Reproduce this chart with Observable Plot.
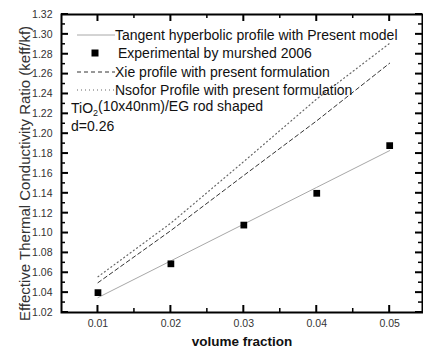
<!DOCTYPE html>
<html>
<head>
<meta charset="utf-8">
<script src="https://cdn.jsdelivr.net/npm/d3@7"></script>
<script src="https://cdn.jsdelivr.net/npm/@observablehq/plot@0.6"></script>
<style>
  html, body { margin: 0; padding: 0; background: #fff; }
  #chart svg { display: block; font-family: "Liberation Sans", Arial, sans-serif; }
</style>
</head>
<body>
<div id="chart"></div>
<script>
// ---- data ----
const fractions = [0.01, 0.02, 0.03, 0.04, 0.05];
const experimental = [1.040, 1.069, 1.108, 1.140, 1.188];
const tangentModel = [1.035, 1.072, 1.109, 1.146, 1.183];
const xieProfile = [1.050, 1.1025, 1.158, 1.213, 1.271];
const nsoforProfile = [1.056, 1.110, 1.172, 1.235, 1.291];

const yMajorTicks = [1.02, 1.04, 1.06, 1.08, 1.10, 1.12, 1.14, 1.16, 1.18, 1.20, 1.22, 1.24, 1.26, 1.28, 1.30, 1.32];
const yMinorTicks = [1.03, 1.05, 1.07, 1.09, 1.11, 1.13, 1.15, 1.17, 1.19, 1.21, 1.23, 1.25, 1.27, 1.29, 1.31];
const xMajorTicks = [0.01, 0.02, 0.03, 0.04, 0.05];
const xMinorTicks = [0.015, 0.025, 0.035, 0.045];

const xLabel = "volume fraction";
const yLabel = "Effective Thermal Conductivity Ratio (keff/kf)";
const legendLabels = [
  "Tangent hyperbolic profile with Present model",
  "Experimental by murshed 2006",
  "Xie profile with present formulation",
  "Nsofor Profile with present formulation"
];
const noteLines = ["TiO", "d=0.26"];

const W = 423, H = 354;
const mL = 61, mR = 1, mT = 14, mB = 42;

const toRows = vals => fractions.map((f, i) => ({x: f, y: vals[i]}));

const chart = Plot.plot({
  width: W,
  height: H,
  marginLeft: mL,
  marginRight: mR,
  marginTop: mT,
  marginBottom: mB,
  style: {fontFamily: "Liberation Sans, Arial, sans-serif", background: "#fff"},
  x: {domain: [0.005, 0.0545]},
  y: {domain: [1.02, 1.32]},
  marks: [
    // tick labels
    Plot.axisY({ticks: yMajorTicks, tickSize: 0, tickPadding: 9, tickFormat: ".2f", fontSize: 10.5, fill: "#333", label: null}),
    Plot.axisX({ticks: xMajorTicks, tickSize: 0, tickPadding: 7, tickFormat: ".2f", fontSize: 10.5, fill: "#333", label: null}),
    // series
    Plot.line(toRows(tangentModel), {x: "x", y: "y", stroke: "#a8a8a8", strokeWidth: 1}),
    Plot.line(toRows(xieProfile), {x: "x", y: "y", stroke: "#333", strokeWidth: 1, strokeDasharray: "4,3"}),
    Plot.line(toRows(nsoforProfile), {x: "x", y: "y", stroke: "#666", strokeWidth: 1.2, strokeDasharray: "1,3"}),
    Plot.dot(toRows(experimental), {x: "x", y: "y", symbol: "square", r: 3.8, fill: "#000", stroke: null}),
    // frame
    Plot.frame({stroke: "#000", strokeWidth: 2}),
    // axis titles
    Plot.text([xLabel], {frameAnchor: "bottom", dy: 33, fontSize: 13.5, fontWeight: "bold", fill: "#111"}),
    Plot.text([yLabel], {frameAnchor: "left", textAnchor: "middle", rotate: -90, dx: -36, dy: 10, fontSize: 15, fill: "#333"})
  ]
});

document.getElementById("chart").appendChild(chart);

const svgNode = chart.tagName.toLowerCase() === "svg" ? chart : chart.querySelector("svg");
const svg = d3.select(svgNode);
const xs = chart.scale("x"), ys = chart.scale("y");
const sx = d3.scaleLinear(xs.domain, xs.range);
const sy = d3.scaleLinear(ys.domain, ys.range);
const xl = mL, xr = W - mR, yt = mT, yb = H - mB;

// ---- inward ticks on all four sides, positioned with the plot's scales ----
const tg = svg.append("g");
function addYTicks(vals, len, w) {
  vals.forEach(v => {
    const y = sy(v);
    tg.append("path").attr("d", `M${xl},${y}h${len}`).attr("stroke", "#000").attr("stroke-width", w);
    tg.append("path").attr("d", `M${xr},${y}h${-len}`).attr("stroke", "#000").attr("stroke-width", w);
  });
}
function addXTicks(vals, len, w) {
  vals.forEach(v => {
    const x = sx(v);
    tg.append("path").attr("d", `M${x},${yb}v${-len}`).attr("stroke", "#000").attr("stroke-width", w);
    tg.append("path").attr("d", `M${x},${yt}v${len}`).attr("stroke", "#000").attr("stroke-width", w);
  });
}
addYTicks(yMajorTicks, 7, 2);
addYTicks(yMinorTicks, 4, 1.5);
addXTicks(xMajorTicks, 7, 2);
addXTicks(xMinorTicks, 4, 1.5);

// ---- legend (inside the plot frame, top-left) ----
const g = svg.append("g")
  .attr("font-family", "Liberation Sans, Arial, sans-serif")
  .attr("font-size", 14)
  .attr("text-anchor", "start")
  .attr("fill", "#111");
const rowsY = [35, 53, 72, 90];
const lineX0 = 77, lineX1 = 115;
const styles = [
  {type: "line", stroke: "#a8a8a8", dash: null, width: 1},
  {type: "square"},
  {type: "line", stroke: "#333", dash: "4,3", width: 1},
  {type: "line", stroke: "#666", dash: "1,3", width: 1.2}
];
legendLabels.forEach((lab, i) => {
  const s = styles[i];
  const y = rowsY[i];
  if (s.type === "line") {
    g.append("line").attr("x1", lineX0).attr("x2", lineX1).attr("y1", y).attr("y2", y)
      .attr("stroke", s.stroke).attr("stroke-width", s.width).attr("stroke-dasharray", s.dash);
  } else {
    g.append("rect").attr("x", 95 - 3.5).attr("y", y - 3.5).attr("width", 7).attr("height", 7).attr("fill", "#000");
  }
  g.append("text").attr("x", i === 1 ? 118 : 115).attr("y", y).attr("dy", "0.36em").text(lab);
});
const note1 = g.append("text").attr("x", 71).attr("y", 108).attr("dy", "0.36em");
note1.append("tspan").text(noteLines[0]);
note1.append("tspan").attr("font-size", 9).attr("dy", "0.35em").text("2");
note1.append("tspan").attr("dy", "-0.35em").text("(10x40nm)/EG rod shaped");
g.append("text").attr("x", 71).attr("y", 126).attr("dy", "0.36em").text(noteLines[1]);
</script>
</body>
</html>
